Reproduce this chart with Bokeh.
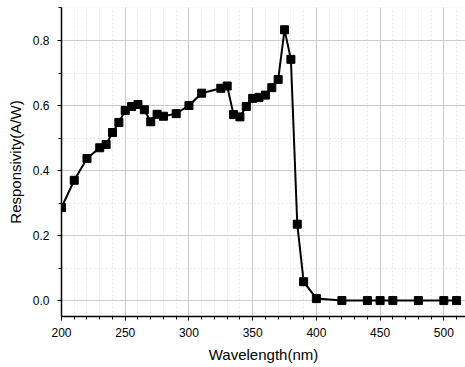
from bokeh.plotting import figure
from bokeh.models import Range1d, SingleIntervalTicker, NumeralTickFormatter
from bokeh.embed import file_html
from bokeh.resources import INLINE

wavelength = [200, 210, 220, 230, 235, 240, 245, 250, 255, 260, 265, 270, 275, 280,
              290, 300, 310, 325, 330, 335, 340, 345, 350, 355, 360, 365, 370, 375,
              380, 385, 390, 400, 420, 440, 450, 460, 480, 500, 510]
responsivity = [0.286, 0.370, 0.437, 0.470, 0.480, 0.517, 0.548, 0.585, 0.597, 0.603,
                0.587, 0.550, 0.573, 0.567, 0.575, 0.600, 0.638, 0.653, 0.660, 0.572,
                0.565, 0.597, 0.622, 0.625, 0.632, 0.655, 0.680, 0.833, 0.742, 0.235,
                0.058, 0.006, 0.0, 0.0, 0.0, 0.0, 0.0, 0.0, 0.0]

FONT = "Liberation Sans"

p = figure(width=465, height=367, output_backend="svg", toolbar_location=None,
           x_range=Range1d(200, 517), y_range=Range1d(-0.049, 0.9015),
           min_border_left=61, min_border_right=0, min_border_top=7, min_border_bottom=51)
p.outline_line_color = None
p.background_fill_color = "white"
p.border_fill_color = "white"

p.line(wavelength, responsivity, line_color="black", line_width=2)
p.scatter(wavelength, responsivity, marker="square", size=8, fill_color="black",
          line_color="black")

p.xaxis.ticker = SingleIntervalTicker(interval=50, num_minor_ticks=5)
p.yaxis.ticker = SingleIntervalTicker(interval=0.2, num_minor_ticks=2)
p.yaxis.formatter = NumeralTickFormatter(format="0.0")

for ax in (p.xaxis, p.yaxis):
    ax.axis_line_color = "black"
    ax.axis_line_width = 1.5
    ax.major_tick_line_color = "black"
    ax.minor_tick_line_color = "black"
    ax.major_tick_out = 4
    ax.major_tick_in = 0
    ax.minor_tick_out = 3
    ax.minor_tick_in = 0
    ax.major_label_text_font = FONT
    ax.major_label_text_font_size = "12px"
    ax.major_label_text_color = "black"
    ax.axis_label_text_font = FONT
    ax.axis_label_text_font_size = "15px"
    ax.axis_label_text_font_style = "normal"
    ax.axis_label_text_color = "black"

p.xaxis.axis_label = "Wavelength(nm)"
p.yaxis.axis_label = "Responsivity(A/W)"
p.xaxis.major_label_standoff = 7
p.xaxis.axis_label_standoff = 6
p.yaxis.major_label_standoff = 8
p.yaxis.axis_label_standoff = 6

p.grid.grid_line_color = "#cccccc"
p.grid.grid_line_width = 1
p.grid.minor_grid_line_color = "#e8e8e8"
p.grid.minor_grid_line_dash = "2 2"

open("out.html", "w").write(file_html(p, INLINE))
